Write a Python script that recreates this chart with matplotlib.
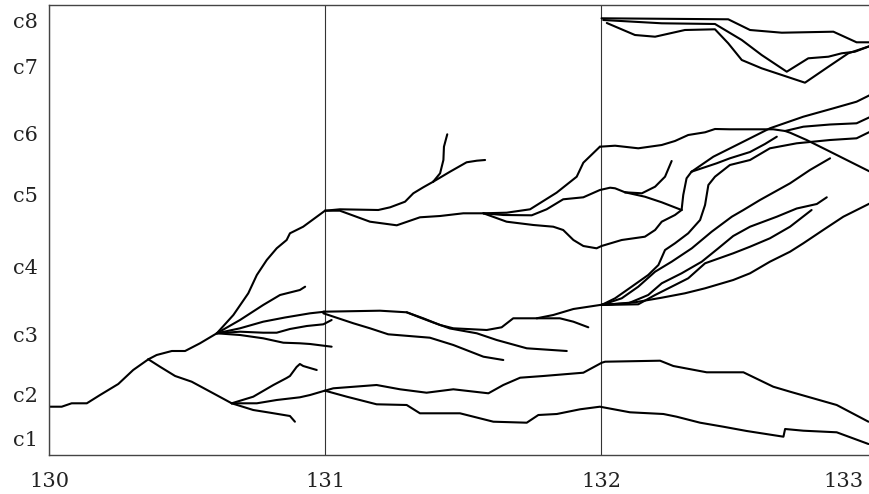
import matplotlib
matplotlib.use('Agg')
import matplotlib.pyplot as plt
from matplotlib.transforms import ScaledTranslation

plt.rcParams['font.family'] = ['DejaVu Serif']

x_ticks = [130, 131, 132, 133]
x_labels = ['130', '131', '132', '133']
y_levels = [1.7, 6.1, 12.1, 18.9, 26.0, 32.1, 38.8, 43.4]
y_labels = ['c1', 'c2', 'c3', 'c4', 'c5', 'c6', 'c7', 'c8']

# --- 130 -> 131 ---
trunk_x = [130.0, 130.046, 130.082, 130.137, 130.185, 130.251, 130.305, 130.36]
trunk_y = [4.83, 4.83, 5.17, 5.17, 6.0, 7.1, 8.5, 9.57]

a_up_x = [130.36, 130.39, 130.445, 130.493, 130.547, 130.608]
a_up_y = [9.57, 10.0, 10.4, 10.4, 11.17, 12.17]

a_dn_x = [130.36, 130.402, 130.457, 130.517, 130.595, 130.662]
a_dn_y = [9.57, 8.83, 7.9, 7.33, 6.17, 5.17]

b1_x = [130.608, 130.668, 130.722, 130.753, 130.789, 130.825, 130.861, 130.873, 130.921, 131.0]
b1_y = [12.17, 14.0, 16.17, 18.0, 19.5, 20.67, 21.5, 22.17, 22.83, 24.43]

b2_x = [130.608, 130.692, 130.776, 130.837, 130.909, 130.928]
b2_y = [12.17, 13.5, 15.0, 16.0, 16.5, 16.83]

b3_x = [130.608, 130.692, 130.776, 130.855, 130.946, 130.999]
b3_y = [12.17, 12.67, 13.33, 13.75, 14.17, 14.33]

b4_x = [130.608, 130.692, 130.776, 130.825, 130.873, 130.934, 130.994, 131.024]
b4_y = [12.17, 12.33, 12.23, 12.23, 12.6, 12.9, 13.07, 13.5]

b5_x = [130.608, 130.692, 130.776, 130.849, 130.909, 130.946, 131.024]
b5_y = [12.17, 12.0, 11.67, 11.23, 11.17, 11.1, 10.83]

c1_x = [130.662, 130.74, 130.813, 130.861, 130.873, 130.897, 130.909, 130.921, 130.97]
c1_y = [5.17, 5.83, 7.0, 7.7, 7.9, 8.8, 9.1, 8.9, 8.5]

c2_x = [130.662, 130.753, 130.825, 130.909, 130.946, 130.999]
c2_y = [5.17, 5.17, 5.5, 5.77, 6.0, 6.43]

c3_x = [130.662, 130.74, 130.801, 130.873, 130.891]
c3_y = [5.17, 4.5, 4.23, 3.9, 3.33]

# --- 131 -> 133, lower group ---
e1_x = [131.0, 131.03, 131.187, 131.272, 131.368, 131.465, 131.592, 131.646, 131.707, 131.791,
        131.936, 132.003, 132.015, 132.214, 132.262, 132.383, 132.516, 132.624, 132.685, 132.854, 132.969]
e1_y = [6.43, 6.67, 7.0, 6.57, 6.23, 6.57, 6.17, 7.0, 7.73, 7.9,
        8.23, 9.23, 9.33, 9.43, 8.9, 8.27, 8.27, 6.83, 6.33, 5.0, 3.33]

e2_x = [131.0, 131.079, 131.187, 131.296, 131.344, 131.489, 131.61, 131.731, 131.773, 131.84, 131.924, 131.996,
        132.105, 132.226, 132.274, 132.359, 132.443, 132.528, 132.661, 132.667, 132.733, 132.854, 132.969]
e2_y = [6.43, 5.83, 5.07, 5.0, 4.17, 4.17, 3.33, 3.23, 4.0, 4.1, 4.57, 4.83,
        4.27, 4.1, 3.83, 3.23, 2.83, 2.4, 1.83, 2.6, 2.43, 2.27, 1.1]

# --- 131 -> 132, middle group ---
h_up_x = [130.994, 131.199, 131.296, 131.356, 131.417, 131.465, 131.586, 131.64, 131.682, 131.767, 131.827, 131.9, 131.996, 132.033]
h_up_y = [14.33, 14.43, 14.27, 13.67, 13.0, 12.67, 12.5, 12.77, 13.67, 13.67, 14.0, 14.6, 15.0, 15.17]

h_side_x = [131.767, 131.851, 131.9, 131.954]
h_side_y = [13.67, 13.67, 13.33, 12.77]

h_mid_x = [131.296, 131.344, 131.392, 131.453, 131.55, 131.622, 131.731, 131.876]
h_mid_y = [14.27, 13.75, 13.25, 12.65, 12.17, 11.5, 10.67, 10.4]

h_low_x = [130.994, 131.103, 131.163, 131.229, 131.38, 131.465, 131.574, 131.646]
h_low_y = [14.17, 13.17, 12.67, 12.07, 11.73, 11.0, 9.83, 9.5]

# --- 131 -> 132, upper group ---
d_up_x = [131.0, 131.054, 131.193, 131.236, 131.29, 131.32, 131.356, 131.392]
d_up_y = [24.43, 24.57, 24.5, 24.77, 25.33, 26.17, 26.77, 27.33]

f_up_x = [131.392, 131.417, 131.429, 131.431, 131.443]
f_up_y = [27.33, 28.17, 29.5, 30.83, 32.07]

f_rt_x = [131.392, 131.453, 131.513, 131.55, 131.58]
f_rt_y = [27.33, 28.33, 29.27, 29.43, 29.5]

d_low_x = [131.0, 131.054, 131.163, 131.26, 131.344, 131.417, 131.501, 131.574]
d_low_y = [24.43, 24.43, 23.33, 22.97, 23.77, 23.9, 24.17, 24.17]

j1_x = [131.574, 131.658, 131.743, 131.839, 131.912, 131.936, 131.996]
j1_y = [24.17, 24.23, 24.57, 26.23, 27.83, 29.23, 30.83]

j2_x = [131.574, 131.646, 131.749, 131.803, 131.863, 131.936, 131.996, 132.033, 132.051, 132.087]
j2_y = [24.17, 24.0, 23.97, 24.57, 25.57, 25.77, 26.5, 26.73, 26.67, 26.27]

j3_x = [131.574, 131.658, 131.755, 131.827, 131.863, 131.9, 131.936, 131.984, 132.002, 132.075,
        132.159, 132.196, 132.22, 132.268, 132.292]
j3_y = [24.17, 23.33, 23.0, 22.83, 22.5, 21.5, 20.9, 20.67, 20.9, 21.5,
        21.83, 22.5, 23.33, 24.0, 24.5]

# --- 132 -> 133 ---
k_x = [131.996, 132.051, 132.135, 132.22, 132.268, 132.316, 132.377, 132.413, 132.467, 132.624, 132.667]
k_y = [30.83, 30.93, 30.67, 31.0, 31.4, 32.0, 32.27, 32.6, 32.57, 32.57, 32.4]

k_dn_x = [132.667, 132.685, 132.745, 132.818, 132.878, 132.975]
k_dn_y = [32.4, 32.23, 31.5, 30.5, 29.67, 28.33]

k_c_x = [132.667, 132.733, 132.83, 132.926, 132.975]
k_c_y = [32.4, 32.83, 33.05, 33.17, 33.8]

l_x = [132.087, 132.148, 132.196, 132.232, 132.256]
l_y = [26.27, 26.17, 26.83, 27.83, 29.4]

l2_x = [132.087, 132.159, 132.22, 132.292]
l2_y = [26.27, 25.83, 25.27, 24.5]

g_x = [132.292, 132.298, 132.31, 132.328]
g_y = [24.5, 26.0, 27.67, 28.33]

g_b_x = [132.328, 132.407, 132.504, 132.612, 132.733, 132.842, 132.926, 132.975]
g_b_y = [28.33, 29.83, 31.17, 32.67, 33.83, 34.67, 35.33, 36.0]

g_s_x = [132.328, 132.419, 132.467, 132.54, 132.594, 132.637]
g_s_y = [28.33, 29.17, 29.67, 30.3, 31.1, 31.83]

f1_x = [132.002, 132.051, 132.111, 132.171, 132.208, 132.232, 132.268, 132.316, 132.359, 132.377,
        132.389, 132.413, 132.467, 132.54, 132.612, 132.709, 132.83, 132.926, 132.975]
f1_y = [15.0, 15.67, 16.83, 18.0, 19.0, 20.5, 21.17, 22.17, 23.5, 25.0,
        27.0, 27.83, 29.0, 29.5, 30.67, 31.17, 31.5, 31.67, 32.33]

f2_x = [132.002, 132.075, 132.135, 132.196, 132.256, 132.329, 132.401, 132.474, 132.516, 132.576, 132.685, 132.757, 132.83]
f2_y = [15.0, 15.67, 16.83, 18.33, 19.33, 20.67, 22.33, 23.83, 24.5, 25.5, 27.17, 28.5, 29.67]

f3_x = [132.002, 132.051, 132.099, 132.171, 132.22, 132.292, 132.365, 132.425, 132.479, 132.54, 132.637, 132.709, 132.782, 132.818]
f3_y = [15.0, 15.1, 15.17, 16.0, 17.17, 18.17, 19.33, 20.67, 21.9, 22.83, 23.83, 24.65, 25.1, 25.77]

f4_x = [132.002, 132.135, 132.196, 132.268, 132.316, 132.377, 132.479, 132.54, 132.612, 132.685, 132.763]
f4_y = [15.0, 15.07, 16.0, 17.0, 17.67, 19.17, 20.17, 20.83, 21.67, 22.83, 24.5]

f5_x = [132.002, 132.123, 132.22, 132.304, 132.377, 132.479, 132.54, 132.612, 132.685, 132.733, 132.805, 132.878, 132.975]
f5_y = [15.0, 15.27, 15.73, 16.17, 16.67, 17.5, 18.17, 19.33, 20.33, 21.17, 22.5, 23.83, 25.17]

t1_x = [132.002, 132.461, 132.54, 132.655, 132.842, 132.926, 132.975]
t1_y = [43.67, 43.57, 42.5, 42.23, 42.33, 41.27, 41.27]

t2_x = [132.008, 132.22, 132.413, 132.51, 132.582, 132.673, 132.751, 132.824, 132.872, 132.92, 132.975]
t2_y = [43.5, 43.17, 43.1, 41.5, 40.0, 38.33, 39.67, 39.83, 40.17, 40.33, 40.9]

t3_x = [132.021, 132.123, 132.196, 132.304, 132.413, 132.461, 132.51, 132.582, 132.739, 132.824, 132.896, 132.975]
t3_y = [43.2, 42.0, 41.83, 42.5, 42.57, 41.17, 39.5, 38.67, 37.23, 38.83, 40.17, 40.9]

branches = [
    (trunk_x, trunk_y), (a_up_x, a_up_y), (a_dn_x, a_dn_y),
    (b1_x, b1_y), (b2_x, b2_y), (b3_x, b3_y), (b4_x, b4_y), (b5_x, b5_y),
    (c1_x, c1_y), (c2_x, c2_y), (c3_x, c3_y),
    (e1_x, e1_y), (e2_x, e2_y),
    (h_up_x, h_up_y), (h_side_x, h_side_y), (h_mid_x, h_mid_y), (h_low_x, h_low_y),
    (d_up_x, d_up_y), (f_up_x, f_up_y), (f_rt_x, f_rt_y), (d_low_x, d_low_y),
    (j1_x, j1_y), (j2_x, j2_y), (j3_x, j3_y),
    (k_x, k_y), (k_dn_x, k_dn_y), (k_c_x, k_c_y),
    (l_x, l_y), (l2_x, l2_y), (g_x, g_y), (g_b_x, g_b_y), (g_s_x, g_s_y),
    (f1_x, f1_y), (f2_x, f2_y), (f3_x, f3_y), (f4_x, f4_y), (f5_x, f5_y),
    (t1_x, t1_y), (t2_x, t2_y), (t3_x, t3_y),
]

fig = plt.figure(figsize=(8.7, 4.94), dpi=100)
# the right edge of the axes (x = 133) sits just past the image border
ax = fig.add_axes([49 / 870, 39 / 494, 828 / 870, 450 / 494])

for xs, ys in branches:
    ax.plot(xs, ys, color='black', lw=1.5, solid_joinstyle='round', solid_capstyle='round')

ax.set_xlim(130, 133)
ax.set_ylim(0, 45)
ax.set_xticks(x_ticks)
ax.set_xticklabels(x_labels)
ax.set_yticks(y_levels)
ax.set_yticklabels(y_labels)
ax.tick_params(axis='both', length=0, labelsize=15, colors='#222222')
ax.tick_params(axis='y', pad=8)
ax.tick_params(axis='x', pad=12)
ax.grid(axis='x', color='#333333', lw=0.8)
ax.grid(axis='y', visible=False)
ax.set_axisbelow(True)
for sp in ax.spines.values():
    sp.set_color('#444444')
    sp.set_linewidth(1.0)

# pull the last x label back inside the picture
last = ax.get_xticklabels()[-1]
last.set_transform(last.get_transform() + ScaledTranslation(-0.34, 0, fig.dpi_scale_trans))

fig.savefig('out.png', dpi=100)
